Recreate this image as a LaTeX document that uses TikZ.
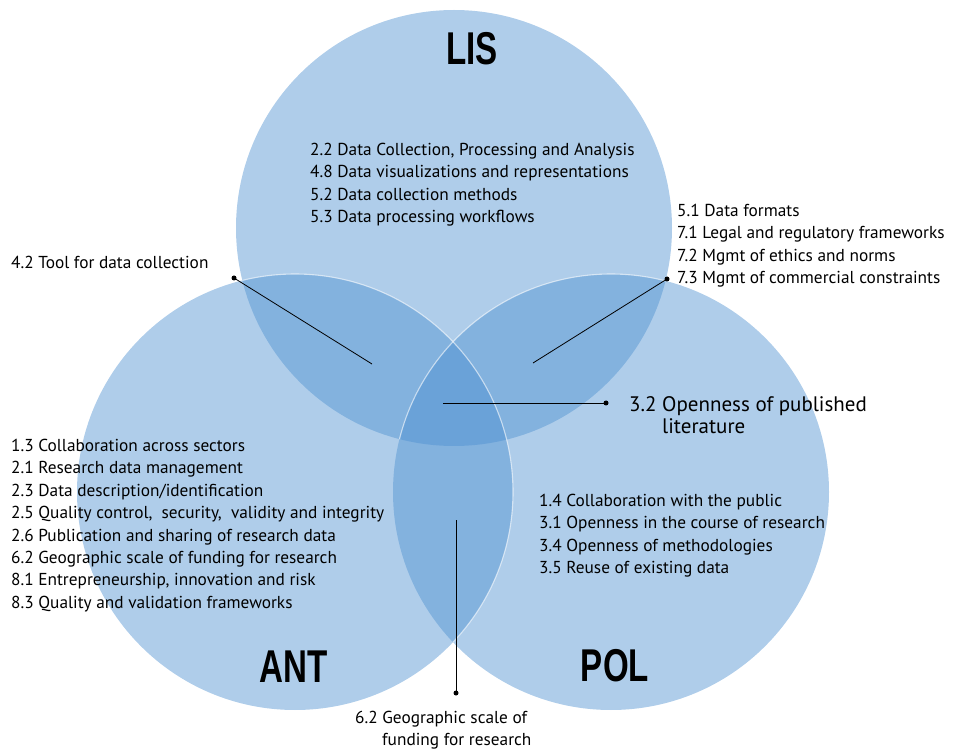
\documentclass[tikz,border=0pt]{standalone}
\usepackage{fontspec}
\setmainfont{PT Sans}
\newfontfamily\labfont{Liberation Sans}
\definecolor{vb}{RGB}{77,144,208}
\begin{document}
\begin{tikzpicture}[x=1pt,y=-1pt]
\tikzset{
 body/.style={font=\fontsize{17.3}{22.4}\selectfont, align=left, inner sep=0pt, anchor=north west},
 bodybig/.style={font=\fontsize{21}{22}\selectfont, align=left, inner sep=0pt, anchor=north west},
 big/.style={font=\labfont\bfseries\fontsize{46}{46}\selectfont, inner sep=0pt},
 disc/.style={fill=vb, fill opacity=0.45},
 rim/.style={draw=white, line width=1.1pt, opacity=0.6},
 dotc/.style={circle, fill=black, inner sep=0pt, minimum size=5pt},
 lead/.style={draw=black, line width=0.8pt}
}
\useasboundingbox (0,0) rectangle (954,751);
\coordinate (lisc) at (454,228);
\coordinate (antc) at (295,492);
\coordinate (polc) at (611,492);
% circles
\fill[disc] (lisc) circle[radius=218];
\fill[disc] (polc) circle[radius=218];
\fill[disc] (antc) circle[radius=218];
\begin{scope}
 \clip (lisc) circle[radius=218];
 \draw[rim] (polc) circle[radius=218];
\end{scope}
\begin{scope}
 \clip (lisc) circle[radius=218] (polc) circle[radius=218];
 \draw[rim] (antc) circle[radius=218];
\end{scope}
% big labels
\node[big] (lis) at (472,49) {\scalebox{0.72}[1]{LIS}};
\node[big] (ant) at (293.5,666.5) {\scalebox{0.72}[1]{ANT}};
\node[big] (pol) at (615,666) {\scalebox{0.72}[1]{POL}};
% text blocks
\node[body] (tlis) at (310,143) {2.2 Data Collection, Processing and Analysis\\4.8 Data visualizations and representations\\5.2 Data collection methods\\5.3 Data processing workflows};
\node[body] (tlp) at (677,204) {5.1 Data formats\\7.1 Legal and regulatory frameworks\\7.2 Mgmt of ethics and norms\\7.3 Mgmt of commercial constraints};
\node[body] (tla) at (11,256) {4.2 Tool for data collection};
\node[body] (tant) at (11,439) {1.3 Collaboration across sectors\\2.1 Research data management\\2.3 Data description/identification\\2.5 Quality control,\ \ security,\ \ validity and integrity\\2.6 Publication and sharing of research data\\6.2 Geographic scale of funding for research\\8.1 Entrepreneurship, innovation and risk\\8.3 Quality and validation frameworks};
\node[body] (tpol) at (539,494) {1.4 Collaboration with the public\\3.1 Openness in the course of research\\3.4 Openness of methodologies\\3.5 Reuse of existing data};
\node[bodybig] (tall) at (629,396) {3.2 Openness of published\\\hspace*{33pt}literature};
\node[body, font=\fontsize{17.3}{21.5}\selectfont] (tap) at (355,711) {6.2 Geographic scale of\\\hspace*{27pt}funding for research};
% connectors
\node[dotc] (d42) at (234,278) {};
\coordinate (e42) at (372,364);
\draw[lead] (d42.center) -- (e42);
\node[dotc] (d73) at (667,279) {};
\coordinate (e73) at (533,363);
\draw[lead] (d73.center) -- (e73);
\node[dotc] (d32) at (606,403) {};
\coordinate (e32) at (443,403);
\draw[lead] (e32) -- (d32.center);
\node[dotc] (d62) at (456,693) {};
\coordinate (e62) at (456,520);
\draw[lead] (e62) -- (d62.center);
\end{tikzpicture}
\end{document}
